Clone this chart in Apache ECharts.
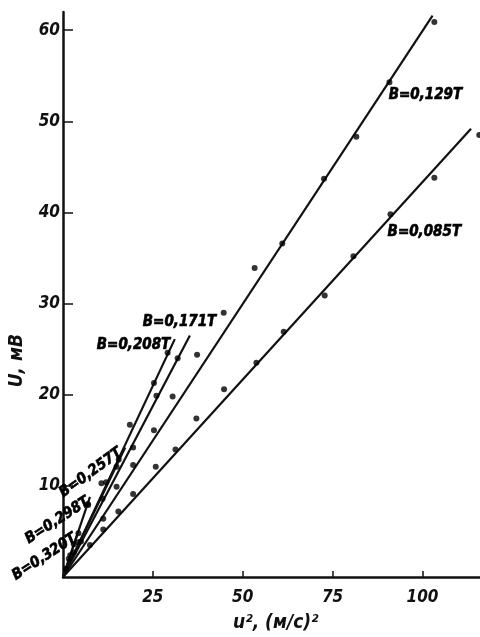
<!DOCTYPE html>
<html>
<head>
<meta charset="utf-8">
<script src="https://cdn.jsdelivr.net/npm/echarts@6/dist/echarts.min.js"></script>
<style>
  html, body { margin: 0; padding: 0; background: #fff; }
  #chart { width: 480px; height: 637px; }
</style>
</head>
<body>
<div id="chart"></div>
<script>
// Induced voltage U against squared flow speed u² for several field strengths B.
const fieldLabels = ['B=0,085T', 'B=0,129T', 'B=0,171T', 'B=0,208T', 'B=0,257T', 'B=0,298T', 'B=0,320T'];

// Measured points [u², U] per field value
const pts085 = [[7.5,3.5],[11.2,5.2],[15.4,7.2],[19.5,9.1],[25.8,12.1],[31.3,14.0],[37.1,17.4],[44.8,20.6],[53.8,23.5],[61.4,26.9],[72.8,30.9],[80.8,35.2],[91.1,39.8],[103.3,43.8],[115.8,48.5]];
const pts129 = [[11.2,6.4],[14.9,9.9],[19.5,12.3],[25.3,16.1],[30.5,19.8],[37.3,24.4],[44.7,29.0],[53.3,33.9],[61.0,36.6],[72.6,43.7],[81.6,48.3],[90.8,54.3],[103.3,60.9]];
const pts171 = [[5.0,3.9],[11.0,8.6],[14.9,12.1],[19.5,14.2],[26.0,19.9],[31.9,24.0]];
const pts208 = [[4.2,3.8],[10.7,10.3],[18.6,16.7],[25.3,21.3],[29.1,24.6]];
const pts257 = [[3.0,2.7],[7.0,7.9],[12.0,10.4],[15.5,12.9]];
const pts298 = [[2.0,2.4],[4.3,4.8],[6.9,8.0]];
const pts320 = [[0.8,0.9],[1.6,2.0],[3.0,3.6]];

// Fitted straight lines: start and end of each line [u², U]
const fit085 = [[0,0],[113.5,49.2]];
const fit129 = [[0,0],[102.8,61.6]];
const fit171 = [[0,0],[35.3,26.5]];
const fit208 = [[0,0],[31.1,26.1]];
const fit257 = [[0,0],[17.3,14.2]];
const fit298 = [[0,0],[7.5,8.8]];
const fit320 = [[0,0],[3.9,4.6]];

// Anchor of each curve label [u², U], alignment and rotation
const labelAnchors = [[90.3,37.9],[90.6,52.9],[22.2,28.0],[9.4,25.4],[16.0,13.8],[7.0,8.4],[3.4,4.4]];
const labelAlign = ['left','left','left','left','right','right','right'];
const labelRotate = [0,0,0,0,36,33,33];

const xTicks = [25, 50, 75, 100];
const yTicks = [10, 20, 30, 40, 50, 60];

const font = '"DejaVu Sans Condensed", "Liberation Sans Narrow", "DejaVu Sans", sans-serif';
const ink = '#111';

const pointSets = [pts085, pts129, pts171, pts208, pts257, pts298, pts320];
const fitSets = [fit085, fit129, fit171, fit208, fit257, fit298, fit320];

const labelStyle = {
  show: true, position: 'inside', verticalAlign: 'middle',
  color: '#000', fontFamily: font, fontStyle: 'italic', fontWeight: 'bold', fontSize: 15,
  textBorderWidth: 0.6, textBorderColor: '#000', opacity: 1
};

const series = [];
fitSets.forEach((d, i) => {
  series.push({
    type: 'line', data: d, symbol: 'none', silent: true,
    lineStyle: { color: ink, width: 2.2 }, z: 2, name: fieldLabels[i]
  });
});
pointSets.forEach((d, i) => {
  series.push({
    type: 'scatter', data: d, symbol: 'circle', symbolSize: 6,
    itemStyle: { color: '#000' }, z: 3, name: fieldLabels[i] + ' pts', clip: false
  });
});
series.push({
  type: 'scatter', symbolSize: 0, silent: true, clip: false, z: 4,
  itemStyle: { color: '#000', opacity: 1 },
  data: labelAnchors.map((p, i) => ({
    value: p,
    label: Object.assign({}, labelStyle, {
      formatter: fieldLabels[i], align: labelAlign[i], rotate: labelRotate[i]
    })
  }))
});

const chart = echarts.init(document.getElementById('chart'), null, { renderer: 'canvas' });
chart.setOption({
  backgroundColor: '#fff',
  animation: false,
  grid: { left: 63, right: 0, top: 12, bottom: 60, containLabel: false },
  xAxis: {
    type: 'value', min: 0, max: 116, interval: 25,
    axisLine: { show: true, lineStyle: { color: ink, width: 2.5 } },
    axisTick: { show: true, inside: true, length: 6, customValues: xTicks, lineStyle: { color: ink, width: 1.5 } },
    axisLabel: {
      customValues: xTicks, color: ink, fontFamily: font, fontStyle: 'italic', fontWeight: 'bold',
      fontSize: 17, margin: 12
    },
    splitLine: { show: false }
  },
  yAxis: {
    type: 'value', min: 0, max: 62, interval: 10,
    axisLine: { show: true, lineStyle: { color: ink, width: 2.5 } },
    axisTick: { show: true, inside: true, length: 10, customValues: yTicks, lineStyle: { color: ink, width: 1.5 } },
    axisLabel: {
      customValues: yTicks, color: ink, fontFamily: font, fontStyle: 'italic', fontWeight: 'bold',
      fontSize: 17, margin: 3
    },
    splitLine: { show: false }
  },
  graphic: [
    {
      type: 'text', left: 8, top: 334, rotation: Math.PI / 2, silent: true,
      style: { text: 'U, мВ', fill: ink, font: 'italic bold 19px ' + font }
    },
    {
      type: 'text', left: 233, top: 614, silent: true,
      style: { text: 'u², (м/с)²', fill: ink, font: 'italic bold 19px ' + font }
    }
  ],
  series: series
});
</script>
</body>
</html>
